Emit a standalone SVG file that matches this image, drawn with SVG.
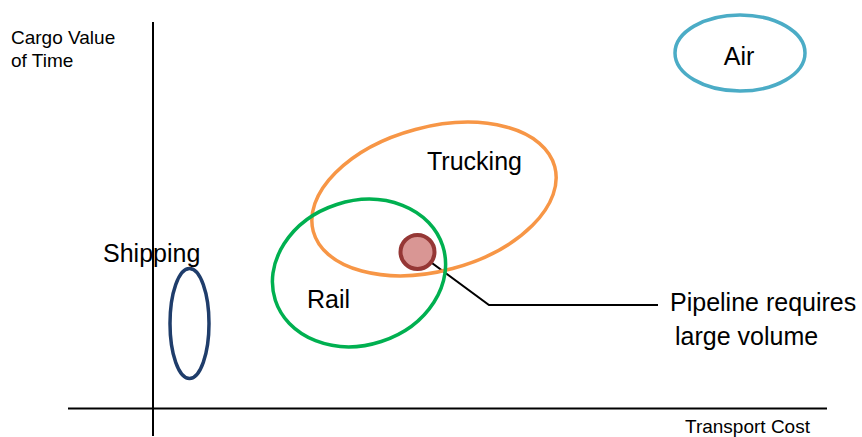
<svg xmlns="http://www.w3.org/2000/svg" width="862" height="437" viewBox="0 0 862 437">
  <style>
    .lbl { font-family: "Liberation Sans", Arial, sans-serif; font-size: 25px; fill: #000; }
    .axis-lbl { font-family: "Liberation Sans", Arial, sans-serif; font-size: 19px; fill: #000; }
    .axis { stroke: #000; stroke-width: 2; fill: none; }
    .mode { fill: none; stroke-width: 3.5; }
  </style>
  <rect width="862" height="437" fill="#fff"/>

  <!-- axes -->
  <g id="axes">
    <line class="axis" x1="153" y1="22" x2="153" y2="436"/>
    <line class="axis" x1="68" y1="408.5" x2="827" y2="408.5"/>
    <text class="axis-lbl" x="11" y="44">Cargo Value</text>
    <text class="axis-lbl" x="11" y="67">of Time</text>
    <text class="axis-lbl" x="685" y="433">Transport Cost</text>
  </g>

  <!-- leader from the pipeline marker to its note -->
  <g id="connectors">
    <polyline points="417,252 489,305 658,305" fill="none" stroke="#000" stroke-width="2"/>
  </g>

  <g id="air">
    <ellipse class="mode" cx="740" cy="53" rx="65" ry="38" stroke="#4BACC6"/>
    <text class="lbl" x="739" y="65" text-anchor="middle">Air</text>
  </g>

  <g id="trucking">
    <ellipse class="mode" cx="434" cy="199" rx="125" ry="72" transform="rotate(-15 434 199)" stroke="#F79646"/>
    <text class="lbl" x="427" y="170">Trucking</text>
  </g>

  <g id="rail">
    <ellipse class="mode" cx="359" cy="273" rx="88" ry="72" transform="rotate(-18 359 273)" stroke="#00B050"/>
    <text class="lbl" x="307" y="308">Rail</text>
  </g>

  <g id="shipping">
    <ellipse class="mode" cx="189.5" cy="323.5" rx="19.5" ry="55" stroke="#1F3D6B"/>
    <text class="lbl" x="103" y="262">Shipping</text>
  </g>

  <g id="pipeline">
    <circle cx="417.5" cy="252" r="17" fill="#D99694" stroke="#953735" stroke-width="4"/>
    <text class="lbl" x="670" y="311">Pipeline requires</text>
    <text class="lbl" x="675" y="345">large volume</text>
  </g>
</svg>
